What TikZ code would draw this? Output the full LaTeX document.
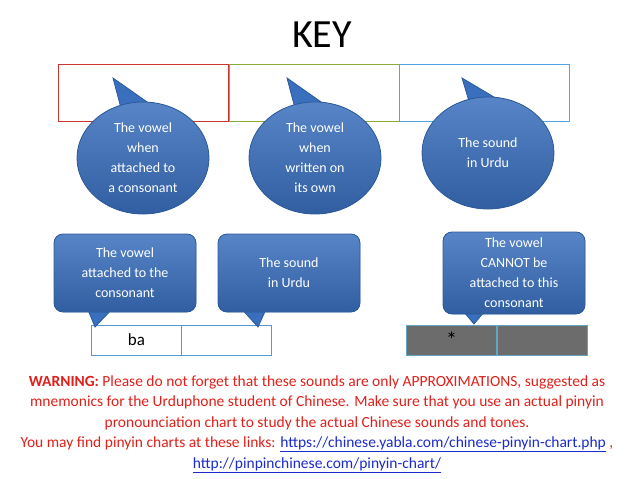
\documentclass[tikz,border=0pt]{standalone}
\usepackage{fontspec}
\setmainfont{Carlito}
\usetikzlibrary{shapes.geometric}
\definecolor{bubble}{HTML}{3A6FBD}
\definecolor{bubbleline}{HTML}{2C5A99}
\definecolor{warn}{HTML}{E0201A}
\definecolor{linkblue}{HTML}{1A2ACC}
\tikzset{
  bubblefill/.style={fill=bubble, draw=bubbleline, line width=0.8pt},
  roundbubble/.style={ellipse, bubblefill, top color=bubble!85!white, bottom color=bubble!85!black,
    minimum width=132pt, minimum height=112pt, text=white, align=center, font=\fontsize{14}{20}\selectfont},
  boxbubble/.style={rounded corners=9pt, bubblefill, top color=bubble!85!white, bottom color=bubble!85!black,
    minimum width=142pt, minimum height=78pt, text=white, align=center, font=\fontsize{14}{20}\selectfont},
  keycell/.style={draw, line width=1pt, minimum width=170pt, minimum height=57pt},
  rowcell/.style={draw=cyan!60!blue!70, line width=1pt, minimum width=90pt, minimum height=30pt, font=\fontsize{17}{18}\selectfont}
}
\begin{document}
\begin{tikzpicture}[x=1pt,y=-1pt]
\useasboundingbox (0,0) rectangle (638,479);
% title
\node (title) at (322,35) {\fontsize{40}{44}\selectfont KEY};
% key row
\node[keycell, draw=red!75!black!80] (keyA) at (143,92.5) {};
\node[keycell, draw=olive!60!green!80] (keyB) at (314,92.5) {};
\node[keycell, draw=cyan!70!blue!70] (keyC) at (484,92.5) {};
% round bubbles
\coordinate (tipA) at (113,78);
\coordinate (tipB) at (287,78);
\coordinate (tipC) at (462,78);
\fill[bubble, draw=bubbleline, line width=0.8pt] (122,112) -- (tipA) -- (150,104) -- cycle;
\fill[bubble, draw=bubbleline, line width=0.8pt] (296,112) -- (tipB) -- (324,104) -- cycle;
\fill[bubble, draw=bubbleline, line width=0.8pt] (471,108) -- (tipC) -- (499,100) -- cycle;
\node[roundbubble] (circA) at (143,158) {The vowel\\when\\attached to\\a consonant};
\node[roundbubble] (circB) at (315,158) {The vowel\\when\\written on\\its own};
\node[roundbubble] (circC) at (488,153) {The sound\\in Urdu};
% bottom row
\node[rowcell] (ba) at (136.5,340) {ba};
\node[rowcell] (baB) at (226.5,340) {};
\node[rowcell, fill=gray!85!black, draw=cyan!50!gray] (xA) at (451.5,340) {\fontsize{22}{22}\selectfont *};
\node[rowcell, fill=gray!85!black, draw=cyan!50!gray] (xB) at (542.5,340) {};
% box bubbles
\coordinate (tipD) at (95,327);
\coordinate (tipE) at (258,327);
\coordinate (tipF) at (474,324);
\fill[bubble, draw=bubbleline, line width=0.8pt] (86,305) -- (tipD) -- (116,305) -- cycle;
\fill[bubble, draw=bubbleline, line width=0.8pt] (238,305) -- (tipE) -- (268,305) -- cycle;
\fill[bubble, draw=bubbleline, line width=0.8pt] (458,305) -- (tipF) -- (490,305) -- cycle;
\node[boxbubble] (boxA) at (125,273) {The vowel\\attached to the\\consonant};
\node[boxbubble] (boxB) at (289,273) {The sound\\in Urdu};
\node[boxbubble, minimum height=82pt] (boxC) at (514,273) {The vowel\\CANNOT be\\attached to this\\consonant};
% warning
\node[text=warn, align=center, font=\fontsize{15.5}{20.5}\selectfont] (warning) at (317,424)
  {\textbf{WARNING:} Please do not forget that these sounds are only APPROXIMATIONS, suggested as\\
   mnemonics for the Urduphone student of Chinese. Make sure that you use an actual pinyin\\
   pronounciation chart to study the actual Chinese sounds and tones.\\
   You may find pinyin charts at these links: \textcolor{linkblue}{\underline{https://chinese.yabla.com/chinese-pinyin-chart.php}} ,\\
   \textcolor{linkblue}{\underline{http://pinpinchinese.com/pinyin-chart/}}};
\end{tikzpicture}
\end{document}
